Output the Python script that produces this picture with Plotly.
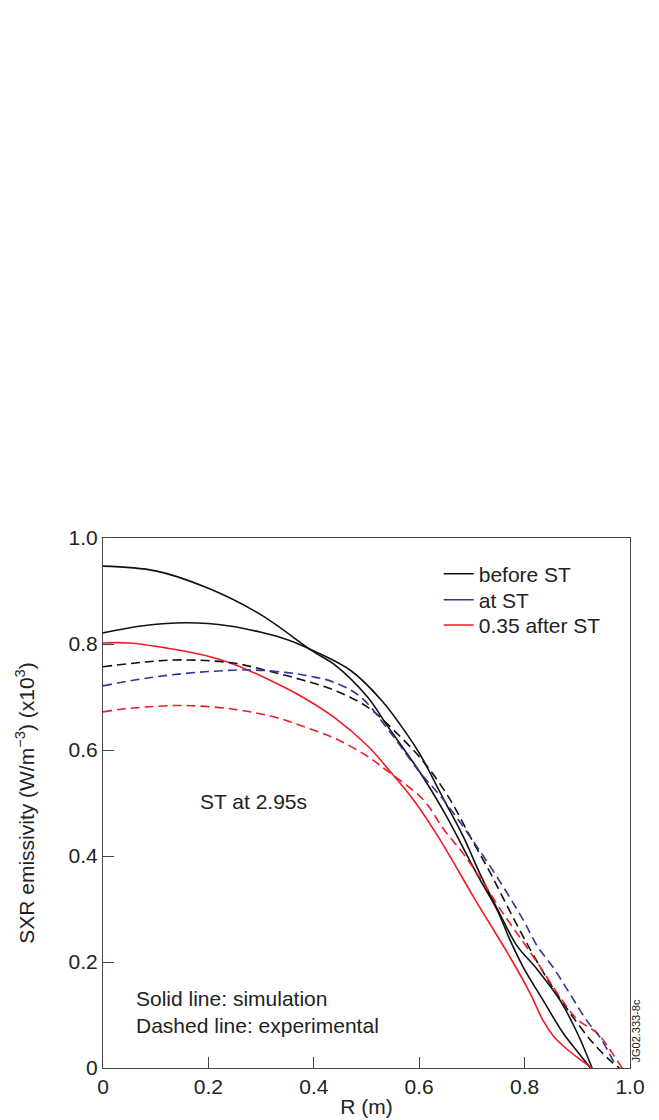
import plotly.graph_objects as go

# ---- data ----
r_black_a = [0, 0.1, 0.2, 0.3, 0.4, 0.438, 0.502, 0.54, 0.602, 0.65, 0.71, 0.748, 0.773, 0.797, 0.835, 0.873, 0.905, 0.925]
v_black_a = [0.947, 0.938, 0.905, 0.855, 0.785, 0.762, 0.700, 0.645, 0.557, 0.478, 0.365, 0.298, 0.240, 0.191, 0.128, 0.066, 0.025, 0.0]

r_black_b = [0, 0.08, 0.16, 0.24, 0.3, 0.35, 0.4, 0.47, 0.53, 0.578, 0.602, 0.646, 0.684, 0.716, 0.759, 0.786, 0.824, 0.867, 0.9, 0.928]
v_black_b = [0.821, 0.835, 0.840, 0.834, 0.822, 0.808, 0.787, 0.750, 0.692, 0.628, 0.591, 0.508, 0.436, 0.365, 0.279, 0.230, 0.186, 0.128, 0.066, 0.0]

r_red_sim = [0, 0.05, 0.123, 0.2, 0.248, 0.312, 0.375, 0.438, 0.502, 0.542, 0.589, 0.640, 0.703, 0.773, 0.811, 0.835, 0.855, 0.873, 0.9, 0.928]
v_red_sim = [0.802, 0.802, 0.792, 0.777, 0.762, 0.734, 0.702, 0.662, 0.608, 0.563, 0.506, 0.430, 0.323, 0.208, 0.140, 0.090, 0.060, 0.042, 0.020, 0.0]

r_black_exp = [0, 0.08, 0.15, 0.248, 0.31, 0.375, 0.438, 0.502, 0.551, 0.608, 0.659, 0.697, 0.735, 0.773, 0.811, 0.848, 0.886, 0.93, 0.968, 0.98]
v_black_exp = [0.757, 0.766, 0.770, 0.764, 0.750, 0.733, 0.713, 0.681, 0.638, 0.578, 0.506, 0.436, 0.368, 0.294, 0.223, 0.160, 0.104, 0.047, 0.009, 0.0]

r_blue_exp = [0, 0.06, 0.123, 0.2, 0.28, 0.35, 0.394, 0.438, 0.489, 0.54, 0.598, 0.646, 0.697, 0.748, 0.797, 0.824, 0.854, 0.886, 0.919, 0.943, 0.962, 0.972]
v_blue_exp = [0.721, 0.732, 0.741, 0.748, 0.751, 0.746, 0.739, 0.728, 0.700, 0.640, 0.562, 0.506, 0.436, 0.360, 0.280, 0.230, 0.190, 0.140, 0.088, 0.058, 0.025, 0.006]

r_red_exp = [0, 0.034, 0.08, 0.153, 0.248, 0.33, 0.375, 0.438, 0.502, 0.54, 0.608, 0.646, 0.684, 0.722, 0.759, 0.797, 0.830, 0.867, 0.900, 0.938, 0.949, 0.965, 0.985]
v_red_exp = [0.672, 0.677, 0.681, 0.684, 0.677, 0.661, 0.646, 0.623, 0.588, 0.560, 0.506, 0.451, 0.404, 0.349, 0.292, 0.238, 0.190, 0.134, 0.092, 0.066, 0.053, 0.030, 0.0]

legend_names = ["before ST", "at ST", "0.35 after ST"]
tick_vals = [0, 0.2, 0.4, 0.6, 0.8, 1.0]
x_tick_text = ["0", "0.2", "0.4", "0.6", "0.8", "1.0"]
y_tick_text = ["0", "0.2", "0.4", "0.6", "0.8", "1.0"]

BLACK = "#111111"
BLUE = "#33339a"
RED = "#ee1c25"
DASH = "9px,5px"
FONT = "Liberation Sans, Arial, Helvetica, sans-serif"
FS = 21

fig = go.Figure()

def add(r, v, color, dash=None):
    fig.add_trace(go.Scatter(
        x=r, y=v, mode="lines", showlegend=False, hoverinfo="skip",
        line=dict(color=color, width=1.6, dash=dash or "solid", shape="spline", smoothing=1.0)))

add(r_black_a, v_black_a, BLACK)
add(r_black_b, v_black_b, BLACK)
add(r_red_sim, v_red_sim, RED)
add(r_black_exp, v_black_exp, BLACK, DASH)
add(r_blue_exp, v_blue_exp, BLUE, DASH)
add(r_red_exp, v_red_exp, RED, DASH)

legend_ids = ["legend", "legend2", "legend3"]
legend_y = [0.932, 0.883, 0.835]
for name, col, lid in zip(legend_names, [BLACK, BLUE, RED], legend_ids):
    fig.add_trace(go.Scatter(x=[None], y=[None], mode="lines", name=name,
                             legend=lid, line=dict(color=col, width=1.5)))

legend_common = dict(xanchor="left", yanchor="middle", bgcolor="rgba(0,0,0,0)",
                     borderwidth=0, font=dict(size=FS, color="#222"), itemwidth=30)

fig.update_layout(
    width=659, height=1120,
    margin=dict(l=103, r=29, t=538, b=52, autoexpand=False),
    paper_bgcolor="white", plot_bgcolor="white",
    font=dict(family=FONT, size=FS, color="#222"),
    showlegend=True,
    legend=dict(x=0.637, y=legend_y[0], **legend_common),
    legend2=dict(x=0.637, y=legend_y[1], **legend_common),
    legend3=dict(x=0.637, y=legend_y[2], **legend_common),
)

fig.update_xaxes(
    range=[0, 1], tickvals=tick_vals, ticktext=x_tick_text, automargin=False,
    ticks="inside", ticklen=11, tickwidth=1, tickcolor="#444",
    showline=True, linecolor="#444", linewidth=1.2, mirror=True,
    showgrid=False, zeroline=False,
    tickfont=dict(size=FS, color="#222"),
    title=dict(text="R (m)", font=dict(size=FS, color="#222"), standoff=2),
)
fig.update_yaxes(
    range=[0, 1], tickvals=tick_vals, ticktext=y_tick_text, automargin=False,
    ticks="inside", ticklen=11, tickwidth=1, tickcolor="#444",
    showline=True, linecolor="#444", linewidth=1.2, mirror=True,
    showgrid=False, zeroline=False,
    tickfont=dict(size=FS, color="#222"),
    title=dict(text="SXR emissivity (W/m<sup>−3</sup>) (x10<sup>3</sup>)",
               font=dict(size=FS, color="#222"), standoff=28),
)

fig.add_annotation(x=0.18, y=0.502, xref="x", yref="y", text="ST at 2.95s",
                   showarrow=False, xanchor="left", yanchor="middle",
                   font=dict(size=FS, color="#222"))
fig.add_annotation(x=0.058, y=0.106, xref="x", yref="y",
                   text="Solid line: simulation<br>Dashed line: experimental",
                   showarrow=False, xanchor="left", yanchor="middle", align="left",
                   font=dict(size=FS, color="#222"))
fig.add_annotation(x=1.0, y=0.0, xref="paper", yref="paper", text="JG02.333-8c",
                   showarrow=False, textangle=-90, xanchor="left", yanchor="bottom",
                   xshift=-3, yshift=3,
                   font=dict(size=11, color="#222"))

fig.write_html("out.html")
